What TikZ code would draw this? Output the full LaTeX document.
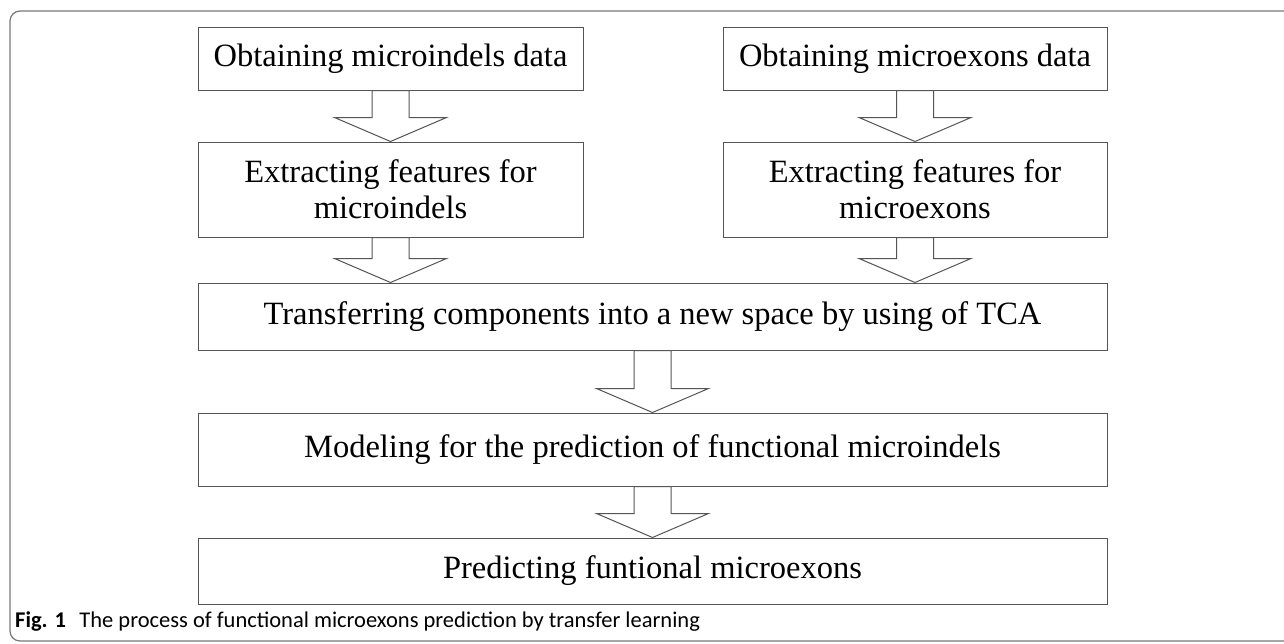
\documentclass[tikz,border=0pt]{standalone}
\usepackage{fontspec}
\setmainfont{Liberation Serif}
\newfontfamily\capfont{Carlito}
\usetikzlibrary{calc}
\definecolor{boxgray}{RGB}{85,85,85}
\definecolor{framegray}{RGB}{120,120,120}
\tikzset{
  stepbox/.style={draw=boxgray, line width=1pt, rectangle, inner sep=0pt, align=center,
    font=\fontsize{32.5}{36}\selectfont},
  blockarr/.style={draw=boxgray, line width=1pt, fill=white, line join=miter},
}
\newcommand{\blockarrow}[2]{%
  \draw[blockarr] ($(#1.south)+(-18.5,0)$) -- ($(#1.south |- #2.north)+(-18.5,-24)$)
    -- ($(#1.south |- #2.north)+(-56,-24)$) -- (#1.south |- #2.north)
    -- ($(#1.south |- #2.north)+(56,-24)$) -- ($(#1.south |- #2.north)+(18.5,-24)$)
    -- ($(#1.south)+(18.5,0)$) -- cycle;}
\begin{document}
\begin{tikzpicture}[x=1pt,y=-1pt]
\useasboundingbox (0,0) rectangle (1284,643);
\fill[white] (0,0) rectangle (1284,643);
\draw[framegray, line width=1.2pt, rounded corners=10pt] (1290,11) -- (10,11) -- (10,641) -- (1290,641);
\node[stepbox, minimum width=385, minimum height=63] (a1) at (390.5,58.5) {Obtaining microindels data};
\node[stepbox, minimum width=384, minimum height=63] (b1) at (915,58.5) {Obtaining microexons data};
\node[stepbox, minimum width=385, minimum height=95] (a2) at (390.5,189.5) {Extracting features for\\microindels};
\node[stepbox, minimum width=384, minimum height=95] (b2) at (915,189.5) {Extracting features for\\microexons};
\node[stepbox, minimum width=909, minimum height=67] (c) at (652.5,316.5) {Transferring components into a new space by using of TCA};
\node[stepbox, minimum width=909, minimum height=73] (d) at (652.5,449.5) {Modeling for the prediction of functional microindels};
\node[stepbox, minimum width=909, minimum height=66] (e) at (652.5,571) {Predicting funtional microexons};
\blockarrow{a1}{a2}
\blockarrow{b1}{b2}
\blockarrow{a2}{c}
\blockarrow{b2}{c}
\blockarrow{c}{d}
\blockarrow{d}{e}
\node[anchor=base west, inner sep=0pt, font=\capfont\fontsize{22.5}{26}\selectfont] (cap) at (15,627)
  {\textbf{Fig. 1}\hspace{0.6em}The process of functional microexons prediction by transfer learning};
\end{tikzpicture}
\end{document}
